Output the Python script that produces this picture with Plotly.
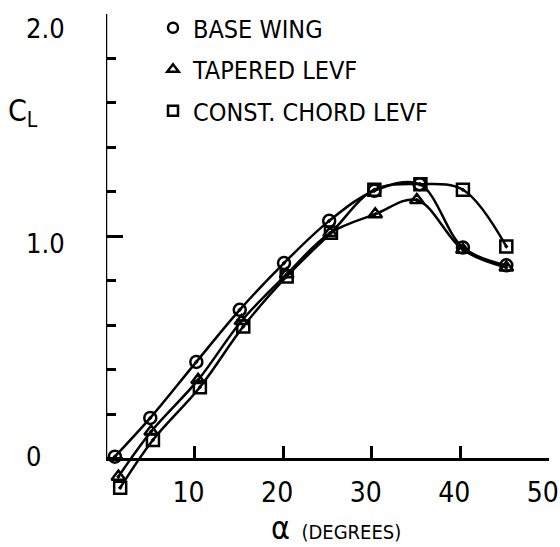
import plotly.graph_objects as go

# Lift coefficient vs. angle of attack for three wing configurations
alpha_base = [1.0, 5.0, 10.2, 15.1, 20.1, 25.2, 30.3, 35.4, 40.3, 45.2]
cl_base = [0.01, 0.184, 0.436, 0.67, 0.88, 1.07, 1.205, 1.235, 0.95, 0.87]

alpha_tapered = [1.4, 5.1, 10.4, 15.3, 20.4, 25.3, 30.4, 35.1, 40.3, 45.2]
cl_tapered = [-0.08, 0.123, 0.355, 0.62, 0.83, 1.015, 1.10, 1.164, 0.94, 0.86]

alpha_const = [1.6, 5.3, 10.6, 15.5, 20.4, 25.4, 30.3, 35.5, 40.3, 45.2]
cl_const = [-0.13, 0.085, 0.322, 0.595, 0.82, 1.016, 1.21, 1.235, 1.21, 0.955]

series_names = ["BASE WING", "TAPERED LEVF", "CONST. CHORD LEVF"]
x_tick_values = [10, 20, 30, 40, 50]
y_tick_values = [0, 1.0, 2.0]
y_tick_labels = ["0", "1.0", "2.0"]

FONT = "Liberation Sans Narrow, DejaVu Sans Condensed, Roboto Condensed, Liberation Sans, sans-serif"
W, H = 560, 547
ML, MR, MT, MB = 106, 11, 14, 57
Y_MIN, Y_MAX = -0.14, 2.0
X_MAX = 50.02
PW, PH = W - ML - MR, H - MT - MB


def px_x(px):
    return (px - ML) / PW


def px_y(py):
    return (H - MB - py) / PH


fig = go.Figure()

series = [
    (alpha_base, cl_base, "circle"),
    (alpha_tapered, cl_tapered, "triangle-up"),
    (alpha_const, cl_const, "square"),
]

for (xs, ys, sym), name in zip(series, series_names):
    fig.add_trace(go.Scatter(
        x=xs, y=ys, mode="lines+markers",
        line=dict(color="black", width=2.5, shape="spline", smoothing=1.0),
        marker=dict(symbol=sym + "-open-dot", size=12, color="black",
                    line=dict(color="black", width=2.5)),
        showlegend=False, cliponaxis=False,
    ))
    # legend key (symbol only)
    fig.add_trace(go.Scatter(
        x=[None], y=[None], mode="markers", name=name, legendgroup=name,
        marker=dict(symbol=sym + "-open", size=10, color="black",
                    line=dict(color="black", width=2.5)),
    ))

# vertical axis line from 0 to 2.0
fig.add_shape(type="line", xref="x", yref="y", x0=0, x1=0, y0=0, y1=Y_MAX,
              line=dict(color="black", width=2.5))

# vertical-axis labels, each nudged slightly below its tick as lettered
label_yshift = [2, -7, -14]
for v, txt, dy in zip(y_tick_values, y_tick_labels, label_yshift):
    fig.add_annotation(text=txt, xref="paper", yref="y", x=0, y=v,
                       xshift=-82, yshift=dy, xanchor="left", yanchor="middle",
                       showarrow=False, font=dict(family=FONT, size=27, color="black"))

fig.add_annotation(text="C<sub>L</sub>", xref="paper", yref="paper",
                   x=px_x(6), y=px_y(112), xanchor="left", yanchor="middle",
                   showarrow=False, font=dict(family=FONT, size=30, color="black"))

fig.add_annotation(text="<span style='font-size:32px'>α</span>&nbsp;&nbsp;(DEGREES)",
                   xref="paper", yref="paper", x=px_x(336), y=px_y(528),
                   xanchor="center", yanchor="middle", showarrow=False,
                   font=dict(family=FONT, size=20, color="black"))

fig.update_layout(
    width=W, height=H,
    margin=dict(l=ML, r=MR, t=MT, b=MB, pad=0, autoexpand=False),
    paper_bgcolor="white", plot_bgcolor="white",
    font=dict(family=FONT, color="black"),
    legend=dict(x=px_x(153), y=px_y(5), xanchor="left", yanchor="top",
                bgcolor="rgba(0,0,0,0)", font=dict(family=FONT, size=25),
                tracegroupgap=6, itemclick=False),
    xaxis=dict(range=[0, X_MAX], anchor="free", position=(0 - Y_MIN) / (Y_MAX - Y_MIN),
               showline=True, linecolor="black", linewidth=2.5,
               ticks="inside", tickvals=x_tick_values, ticklen=12, tickwidth=2.5,
               tickcolor="black", tickfont=dict(family=FONT, size=28),
               ticklabelstandoff=8, ticklabelshift=-6, ticklabeloverflow="allow",
               automargin=False, showgrid=False, zeroline=False),
    yaxis=dict(range=[Y_MIN, Y_MAX], showline=False, showticklabels=False,
               ticks="inside", tick0=0, dtick=1, ticklen=17, tickwidth=2.5,
               tickcolor="black",
               minor=dict(ticks="inside", tick0=0, dtick=0.2, ticklen=10,
                          tickwidth=2.5, tickcolor="black"),
               automargin=False, showgrid=False, zeroline=False),
)

fig.write_html("out.html")
